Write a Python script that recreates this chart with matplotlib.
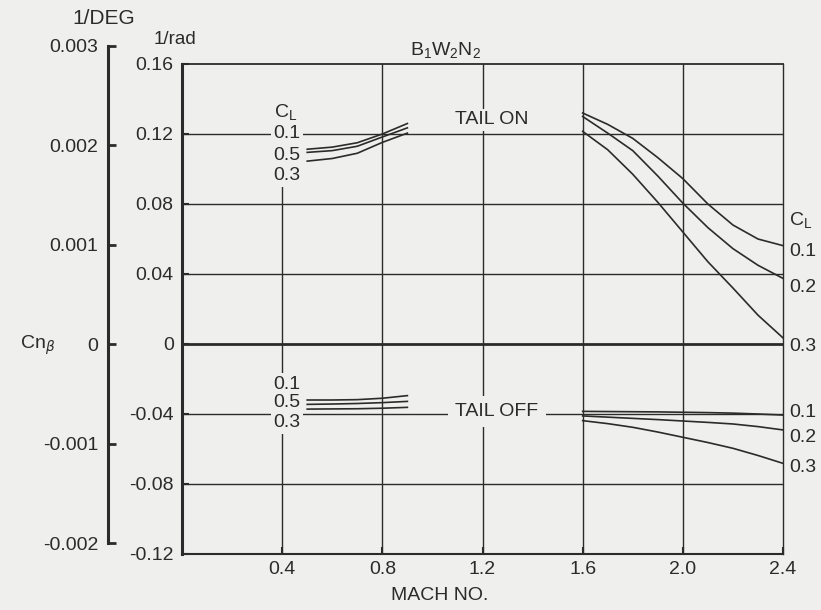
import numpy as np
import matplotlib
matplotlib.use('Agg')
import matplotlib.pyplot as plt

plt.rcParams['font.family'] = ['Liberation Sans', 'DejaVu Sans']
plt.rcParams['axes.unicode_minus'] = False

# Data (Cn_beta, per radian)
mach_sub = [0.5, 0.6, 0.7, 0.8, 0.9]
on_sub_01 = [0.1113, 0.1125, 0.1150, 0.1200, 0.1260]
on_sub_05 = [0.1095, 0.1105, 0.1130, 0.1183, 0.1235]
on_sub_03 = [0.1045, 0.1060, 0.1090, 0.1152, 0.1205]
off_sub_01 = [-0.0320, -0.0320, -0.0318, -0.0310, -0.0295]
off_sub_05 = [-0.0345, -0.0343, -0.0340, -0.0335, -0.0328]
off_sub_03 = [-0.0372, -0.0371, -0.0370, -0.0367, -0.0362]

mach_sup = [1.6, 1.7, 1.8, 1.9, 2.0, 2.1, 2.2, 2.3, 2.4]
on_sup_01 = [0.1320, 0.1255, 0.1175, 0.1065, 0.0945, 0.0800, 0.0680, 0.0600, 0.0562]
on_sup_02 = [0.1300, 0.1205, 0.1105, 0.0960, 0.0805, 0.0665, 0.0545, 0.0450, 0.0375]
on_sup_03 = [0.1215, 0.1110, 0.0970, 0.0810, 0.0640, 0.0470, 0.0320, 0.0165, 0.0035]
off_sup_01 = [-0.0385, -0.0386, -0.0387, -0.0388, -0.0390, -0.0392, -0.0395, -0.0400, -0.0406]
off_sup_02 = [-0.0411, -0.0418, -0.0425, -0.0432, -0.0440, -0.0448, -0.0457, -0.0472, -0.0491]
off_sup_03 = [-0.0438, -0.0455, -0.0476, -0.0503, -0.0533, -0.0563, -0.0596, -0.0637, -0.0682]

x_ticks = [0.4, 0.8, 1.2, 1.6, 2.0, 2.4]
x_labels = ['0.4', '0.8', '1.2', '1.6', '2.0', '2.4']
y_ticks = [0.16, 0.12, 0.08, 0.04, 0, -0.04, -0.08, -0.12]
y_labels = ['0.16', '0.12', '0.08', '0.04', '0', '-0.04', '-0.08', '-0.12']
deg_ticks = [0.003, 0.002, 0.001, 0, -0.001, -0.002]
deg_labels = ['0.003', '0.002', '0.001', '0', '-0.001', '-0.002']

bg = '#efefed'
ink = '#2b2b2b'
W, H = 821, 610

fig = plt.figure(figsize=(W / 100, H / 100), dpi=100, facecolor=bg)
ax = fig.add_axes([182 / W, 1 - 554 / H, (783 - 182) / W, (554 - 64) / H])
ax.set_facecolor(bg)
ax.set_xlim(0, 2.4)
ax.set_ylim(-0.12, 0.16)

# grid
for y in [0.12, 0.08, 0.04, -0.04, -0.08]:
    ax.axhline(y, color=ink, lw=1.0, zorder=1)
ax.axhline(0, color=ink, lw=2.0, zorder=1)
for x in [0.8, 1.2, 1.6, 2.0]:
    ax.axvline(x, color=ink, lw=1.0, zorder=1)
ax.plot([0.4, 0.4], [-0.12, -0.051], color=ink, lw=1.0, zorder=1)
ax.plot([0.4, 0.4], [-0.018, 0.092], color=ink, lw=1.0, zorder=1)

# curves
for ys in [on_sub_01, on_sub_05, on_sub_03, off_sub_01, off_sub_05, off_sub_03]:
    ax.plot(mach_sub, ys, color=ink, lw=1.2, zorder=3)
for ys in [on_sup_01, on_sup_02, on_sup_03, off_sup_01, off_sup_02, off_sup_03]:
    ax.plot(mach_sup, ys, color=ink, lw=1.2, zorder=3)

box = dict(facecolor=bg, edgecolor='none', pad=1.5)
fs = 14

# left CL labels
ax.text(0.416, 0.1326, r'$\mathregular{C_L}$', fontsize=fs, ha='center', va='center', color=ink)
for v, lab in zip([0.1205, 0.108, 0.096], ['0.1', '0.5', '0.3']):
    ax.text(0.42, v, lab, fontsize=fs, ha='center', va='center', color=ink, bbox=box, zorder=4)
for v, lab in zip([-0.0229, -0.0337, -0.0451], ['0.1', '0.5', '0.3']):
    ax.text(0.42, v, lab, fontsize=fs, ha='center', va='center', color=ink, bbox=box, zorder=4)

ax.text(1.238, 0.128, 'TAIL ON', fontsize=fs, ha='center', va='center', color=ink, bbox=box, zorder=4)
ax.text(1.258, -0.0383, 'TAIL OFF', fontsize=fs, ha='center', va='center', color=ink,
        bbox=dict(facecolor=bg, edgecolor='none', pad=5), zorder=4)

# right CL labels
ax.text(2.425, 0.0709, r'$\mathregular{C_L}$', fontsize=fs, ha='left', va='center', color=ink, clip_on=False)
for v, lab in zip([0.0526, 0.032, -0.0017, -0.0394, -0.0532, -0.0703],
                  ['0.1', '0.2', '0.3', '0.1', '0.2', '0.3']):
    ax.text(2.425, v, lab, fontsize=fs, ha='left', va='center', color=ink, clip_on=False)

# axes styling
ax.set_xticks(x_ticks)
ax.set_xticklabels(x_labels)
ax.set_yticks(y_ticks)
ax.set_yticklabels(y_labels)
ax.tick_params(axis='both', direction='in', length=5, width=1.5, colors=ink, labelsize=fs)
ax.tick_params(axis='x', pad=5)
ax.tick_params(axis='y', pad=6)
ax.spines['left'].set_linewidth(2.2)
ax.spines['bottom'].set_linewidth(1.5)
ax.spines['top'].set_linewidth(1.3)
ax.spines['right'].set_linewidth(1.0)
for s in ax.spines.values():
    s.set_color(ink)

# 1/deg bracket axis
ax2 = fig.add_axes([108 / W, 1 - 543 / H, 0.002, (543 - 46) / H])
ax2.patch.set_visible(False)
ax2.set_ylim(-0.002, 0.003)
ax2.set_xticks([])
ax2.set_yticks(deg_ticks)
ax2.set_yticklabels(deg_labels)
for s in ['top', 'right', 'bottom']:
    ax2.spines[s].set_visible(False)
ax2.spines['left'].set_linewidth(2.2)
ax2.spines['left'].set_color(ink)
ax2.tick_params(axis='y', direction='in', length=6, width=2.0, colors=ink, labelsize=fs, pad=7)

# titles / axis labels
fig.text(104 / W, 1 - 19 / H, '1/DEG', fontsize=15, ha='center', va='center', color=ink)
fig.text(175 / W, 1 - 39 / H, '1/rad', fontsize=13.5, ha='center', va='center', color=ink)
fig.text(38 / W, 1 - 345 / H, r'$\mathregular{Cn}_{\beta}$', fontsize=14, ha='center', va='center', color=ink)
fig.text(446 / W, 1 - 50 / H, r'$\mathregular{B_1W_2N_2}$', fontsize=14, ha='center', va='center', color=ink)
fig.text(440 / W, 1 - 595 / H, 'MACH NO.', fontsize=14, ha='center', va='center', color=ink)

fig.savefig('out.png', dpi=100, facecolor=bg)
